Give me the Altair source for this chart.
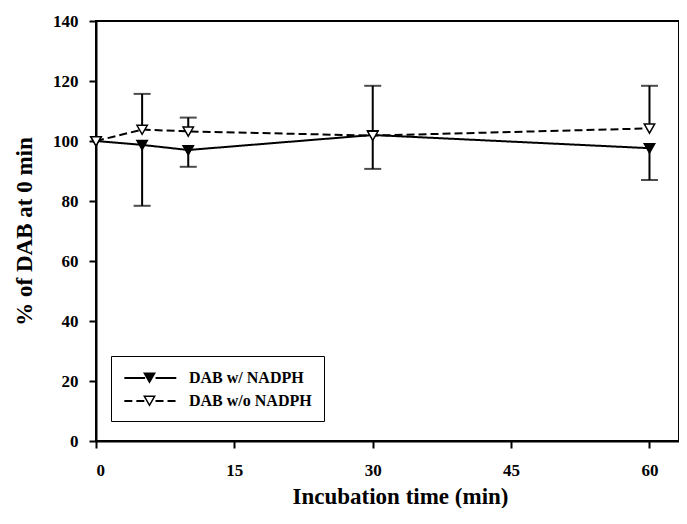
import altair as alt
import pandas as pd

# ---- data ----
time_min = [0, 5, 10, 30, 60]
with_nadph = [100.0, 98.7, 97.0, 102.0, 97.6]
with_err = [0.0, 20.3, 5.6, 11.3, 10.6]        # drawn downward
without_nadph = [100.0, 103.8, 103.2, 101.8, 104.2]
without_err = [0.0, 11.9, 4.6, 16.6, 14.2]     # drawn upward
series_names = ["DAB w/ NADPH", "DAB w/o NADPH"]
marker_keys = ["filled", "open"]
x_ticks = [0, 15, 30, 45, 60]
y_ticks = [0, 20, 40, 60, 80, 100, 120, 140]

rows = []
for t, v, e in zip(time_min, with_nadph, with_err):
    rows.append({"time": t, "value": v, "series": series_names[0], "marker": marker_keys[0],
                 "lo": v - e, "hi": v, "cap": v - e, "err": e})
for t, v, e in zip(time_min, without_nadph, without_err):
    rows.append({"time": t, "value": v, "series": series_names[1], "marker": marker_keys[1],
                 "lo": v, "hi": v + e, "cap": v + e, "err": e})
df = pd.DataFrame(rows)

FONT = "Liberation Serif"
TRI = "M-0.6,-0.5L0.6,-0.5L0,0.55Z"
LEG_LINE = "M-1,0H1.4M2.6,0H5"

xs = alt.Scale(domain=[0, 63.2], nice=False)
ys = alt.Scale(domain=[0, 140], nice=False)

base = alt.Chart(df)

x_enc = alt.X("time:Q", scale=xs,
              axis=alt.Axis(values=x_ticks, title="Incubation time (min)", format="d",
                            titleX=304, titleY=62, titleBaseline="alphabetic"))
y_enc = alt.Y("value:Q", scale=ys,
              axis=alt.Axis(values=y_ticks, title="% of DAB at 0 min", format="d",
                            titleX=-65, titleY=210, titleBaseline="alphabetic"))

has_err = alt.datum.err > 0

rules = base.transform_filter(has_err).mark_rule(color="black", strokeWidth=2).encode(
    x=alt.X("time:Q", scale=xs),
    y=alt.Y("lo:Q", scale=ys),
    y2="hi:Q",
)
caps = base.transform_filter(has_err).mark_tick(
    color="black", orient="horizontal", size=17, thickness=2
).encode(
    x=alt.X("time:Q", scale=xs),
    y=alt.Y("cap:Q", scale=ys),
)

lines = base.mark_line(color="black", strokeWidth=2).encode(
    x=x_enc,
    y=y_enc,
    strokeDash=alt.StrokeDash(
        "series:N",
        scale=alt.Scale(domain=series_names, range=[[1, 0], [8, 4]]),
        legend=alt.Legend(
            orient="none", legendX=15, legendY=335, title=None,
            strokeColor="black", padding=12,
            symbolType=LEG_LINE, symbolSize=300, symbolStrokeWidth=2,
            symbolStrokeColor="black",
            labelOffset=46, labelFont=FONT, labelFontWeight="bold",
            labelFontSize=16, labelColor="black", rowPadding=5,
        ),
    ),
)

points = base.mark_point(shape=TRI, size=300, stroke="black", strokeWidth=1.5,
                         filled=True, opacity=1).encode(
    x=alt.X("time:Q", scale=xs),
    y=alt.Y("value:Q", scale=ys),
    color=alt.Color(
        "marker:N",
        scale=alt.Scale(domain=marker_keys, range=["black", "white"]),
        legend=alt.Legend(
            orient="none", legendX=32, legendY=335, title=None, padding=12,
            symbolType=TRI, symbolSize=300, symbolStrokeWidth=1.5,
            symbolStrokeColor="black", symbolOpacity=1,
            labelExpr="''", labelFont=FONT, labelFontWeight="bold",
            labelFontSize=16, rowPadding=5,
        ),
    ),
)

chart = alt.layer(rules, caps, lines, points).properties(
    width=583, height=420,
    autosize=alt.AutoSizeParams(type="none"),
    padding={"left": 88, "top": 13, "right": 0, "bottom": 67},
).configure_view(
    stroke="black", strokeWidth=2
).configure_axis(
    grid=False, domainColor="black", domainWidth=2,
    tickColor="black", tickWidth=2, tickSize=7,
    labelFont=FONT, labelFontWeight="bold", labelFontSize=17, labelColor="black",
    titleFont=FONT, titleFontWeight="bold", titleFontSize=23, titleColor="black",
).configure_axisY(
    labelPadding=11,
).configure_axisX(
    labelPadding=14,
)

chart.save("out.html", embed_options={"renderer": "svg", "actions": False})
